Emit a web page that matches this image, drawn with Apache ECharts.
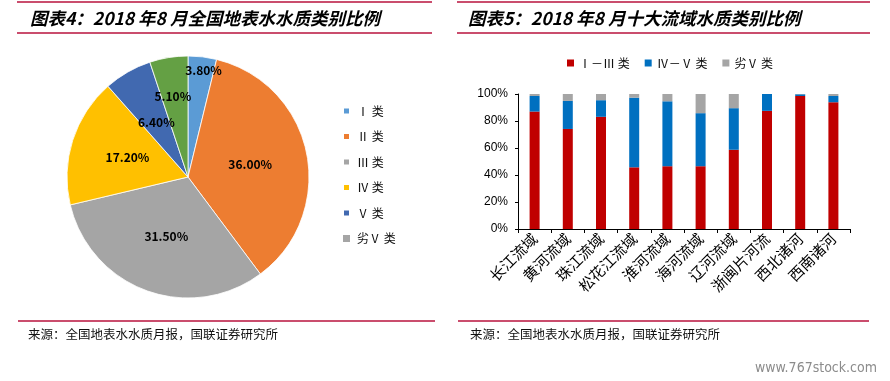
<!DOCTYPE html>
<html><head><meta charset="utf-8">
<script src="https://cdn.jsdelivr.net/npm/echarts@6/dist/echarts.min.js"></script>
<style>html,body{margin:0;padding:0;background:#fff}#c{width:890px;height:381px}</style>
</head><body><div id="c"></div>
<script>
// ---- data ----
const pieNames = ['Ⅰ 类', 'Ⅱ 类', 'Ⅲ 类', 'Ⅳ 类', 'Ⅴ 类', '劣Ⅴ 类'];
const pieValues = [3.8, 36.0, 31.5, 17.2, 6.4, 5.1];
const basins = ['长江流域', '黄河流域', '珠江流域', '松花江流域', '淮河流域', '海河流域', '辽河流域', '浙闽片河流', '西北诸河', '西南诸河'];
const seriesNames = ['Ⅰ－Ⅲ 类', 'Ⅳ－Ⅴ 类', '劣Ⅴ 类'];
const classI_III = [87.0, 74.1, 83.1, 45.7, 46.5, 46.5, 58.7, 87.5, 98.5, 93.9];
const classIV_V = [11.5, 20.8, 12.3, 51.6, 48.1, 39.3, 30.8, 12.5, 1.3, 4.6];
const classWorseV = [1.5, 5.1, 4.6, 2.7, 5.4, 14.2, 10.5, 0.0, 0.2, 1.5];
const yTicks = [0, 20, 40, 60, 80, 100];

// ---- styles ----
const pieColors = ['#5B9BD5', '#ED7D31', '#A5A5A5', '#FFC000', '#4169B0', '#64A044'];
const barColors = ['#C00000', '#0070C0', '#A5A5A5'];
const labelOffsets = [[8, -44], [0, 0], [0, 0], [0, 0], [0, 0], [-5, -18]];
const lineColor = '#B8123C';
const cjk = '"Noto Sans CJK SC", sans-serif';

const chart = echarts.init(document.getElementById('c'));
const pieData = pieNames.map((n, i) => ({
  name: n, value: pieValues[i],
  label: { offset: labelOffsets[i] }
}));

function hline(x1, x2, y) {
  return { type: 'line', shape: { x1, y1: y, x2, y2: y }, style: { stroke: lineColor, lineWidth: 1.5 }, silent: true };
}
function txt(x, y, text, style) {
  return { type: 'text', x, y, style: Object.assign({ text, fill: '#000', verticalAlign: 'middle' }, style), silent: true };
}
const titleFont = 'italic bold 17.5px ' + cjk;
const srcFont = '12.5px ' + cjk;

chart.setOption({
  animation: false,
  color: barColors,
  graphic: [
    hline(17, 432, 2), hline(17, 432, 33), hline(457, 870, 2), hline(457, 870, 33),
    hline(18, 435, 321), hline(458, 869, 321),
    txt(30, 18, '图表4：2018 年8 月全国地表水水质类别比例', { font: titleFont }),
    txt(468, 18, '图表5：2018 年8 月十大流域水质类别比例', { font: titleFont }),
    txt(28, 334, '来源：全国地表水水质月报，国联证券研究所', { font: srcFont, fill: '#111' }),
    txt(470, 334, '来源：全国地表水水质月报，国联证券研究所', { font: srcFont, fill: '#111' }),
    txt(755, 368, 'www.767stock.com', { font: '14px "DejaVu Sans Condensed", sans-serif', fill: '#8c8c8c' })
  ],
  legend: [
    {
      data: pieNames, orient: 'vertical', left: 337, top: 100,
      itemWidth: 7, itemHeight: 7, itemGap: 13.5, icon: 'rect',
      textStyle: { fontSize: 12, color: '#111', fontFamily: cjk, padding: [0, 0, 0, 2] }
    },
    {
      data: seriesNames, orient: 'horizontal', left: 562, top: 52,
      itemWidth: 7, itemHeight: 7, itemGap: 15, icon: 'rect',
      textStyle: { fontSize: 12, color: '#111', fontFamily: cjk }
    }
  ],
  grid: { left: 518, right: 40, top: 94, bottom: 152 },
  xAxis: {
    type: 'category', data: basins,
    axisLine: { lineStyle: { color: '#000', width: 1 } },
    axisTick: { show: true, length: 4, lineStyle: { color: '#000' } },
    axisLabel: { rotate: 45, interval: 0, fontSize: 15, color: '#000', fontFamily: cjk, margin: 7 }
  },
  yAxis: {
    type: 'value', min: 0, max: 100, interval: 20,
    axisLine: { show: true, lineStyle: { color: '#000' } },
    axisTick: { show: true, length: 3, lineStyle: { color: '#000' } },
    splitLine: { show: false },
    axisLabel: { formatter: v => yTicks.includes(v) ? v + '%' : '', fontSize: 12, color: '#000', fontFamily: 'Arial, "Liberation Sans", sans-serif', margin: 10 }
  },
  series: [
    {
      type: 'pie', center: [188, 177], radius: 121, startAngle: 90, clockwise: true,
      legendHoverLink: false, data: pieData,
      itemStyle: { borderColor: '#fff', borderWidth: 0.8 },
      color: pieColors,
      label: { show: true, position: 'inside', formatter: p => p.value.toFixed(2) + '%', color: '#000', fontWeight: 'bold', fontSize: 12, fontFamily: cjk },
      labelLine: { show: false }
    },
    { name: seriesNames[0], type: 'bar', stack: 's', barWidth: 10, data: classI_III, itemStyle: { color: barColors[0] } },
    { name: seriesNames[1], type: 'bar', stack: 's', barWidth: 10, data: classIV_V, itemStyle: { color: barColors[1] } },
    { name: seriesNames[2], type: 'bar', stack: 's', barWidth: 10, data: classWorseV, itemStyle: { color: barColors[2] } }
  ]
});
</script></body></html>
